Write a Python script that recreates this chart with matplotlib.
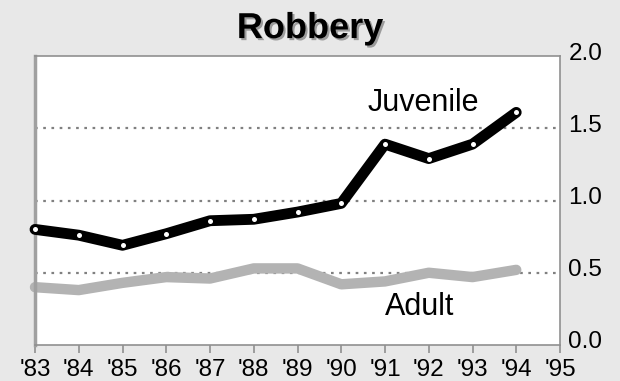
import numpy as np
import matplotlib.pyplot as plt
import matplotlib.transforms as mtransforms
import matplotlib.patheffects as pe

# Robbery arrest rates by year
years = [83, 84, 85, 86, 87, 88, 89, 90, 91, 92, 93, 94]
juvenile = [0.80, 0.76, 0.69, 0.77, 0.86, 0.87, 0.92, 0.98, 1.39, 1.29, 1.39, 1.61]
adult = [0.40, 0.38, 0.43, 0.47, 0.46, 0.53, 0.53, 0.42, 0.44, 0.50, 0.47, 0.52]

x_ticks = list(range(83, 96))
x_labels = ["'%d" % y for y in x_ticks]
y_ticks = [0.0, 0.5, 1.0, 1.5, 2.0]

plt.rcParams['font.family'] = ['Liberation Sans', 'DejaVu Sans']

bg = '#e8e8e8'
fig = plt.figure(figsize=(6.2, 3.81), dpi=100, facecolor=bg)
ax = fig.add_axes([35 / 620, 36 / 381, 525 / 620, 289 / 381])
ax.set_facecolor('white')

# dotted reference lines
for y in [0.5, 1.0, 1.5]:
    ax.axhline(y, color='#808080', linewidth=1.6, linestyle=(0, (1.2, 2.5)), zorder=1)

ax.plot(years, adult, color='#b3b3b3', linewidth=7.5, solid_capstyle='round',
        clip_on=False, zorder=2)
ax.plot(years, juvenile, color='black', linewidth=7.8, solid_capstyle='round',
        marker='o', markersize=3.6, markerfacecolor='white', markeredgewidth=0,
        clip_on=False, zorder=3)

ax.text(90.6, 1.62, 'Juvenile', fontsize=22, color='black')
ax.text(91.0, 0.21, 'Adult', fontsize=22, color='black')

ax.set_xlim(83, 95)
ax.set_ylim(0, 2.0)
ax.set_xticks(x_ticks)
ax.set_xticklabels(x_labels, fontsize=17.5)
ax.set_yticks(y_ticks)
ax.set_yticklabels(['%.1f' % v for v in y_ticks], fontsize=17.5)

ax.yaxis.tick_right()
ax.tick_params(axis='y', length=0, pad=6)
ax.tick_params(axis='x', length=6, width=1.2, color='#909090', direction='out', pad=4)

# nudge the value labels up a little
offset = mtransforms.ScaledTranslation(0, 5 / 100, fig.dpi_scale_trans)
for lbl in ax.get_yticklabels():
    lbl.set_transform(lbl.get_transform() + offset)

for side in ['top', 'right', 'bottom']:
    ax.spines[side].set_color('#909090')
    ax.spines[side].set_linewidth(1.2)
ax.spines['left'].set_color('#a0a0a0')
ax.spines['left'].set_linewidth(2.5)

title = fig.text(0.5, 0.925, 'Robbery', fontsize=26, fontweight='bold', ha='center', va='center')
title.set_path_effects([pe.withSimplePatchShadow(offset=(1.5, -1.5), shadow_rgbFace='#888888', alpha=0.8)])

fig.savefig('out.png', dpi=100, facecolor=bg)
